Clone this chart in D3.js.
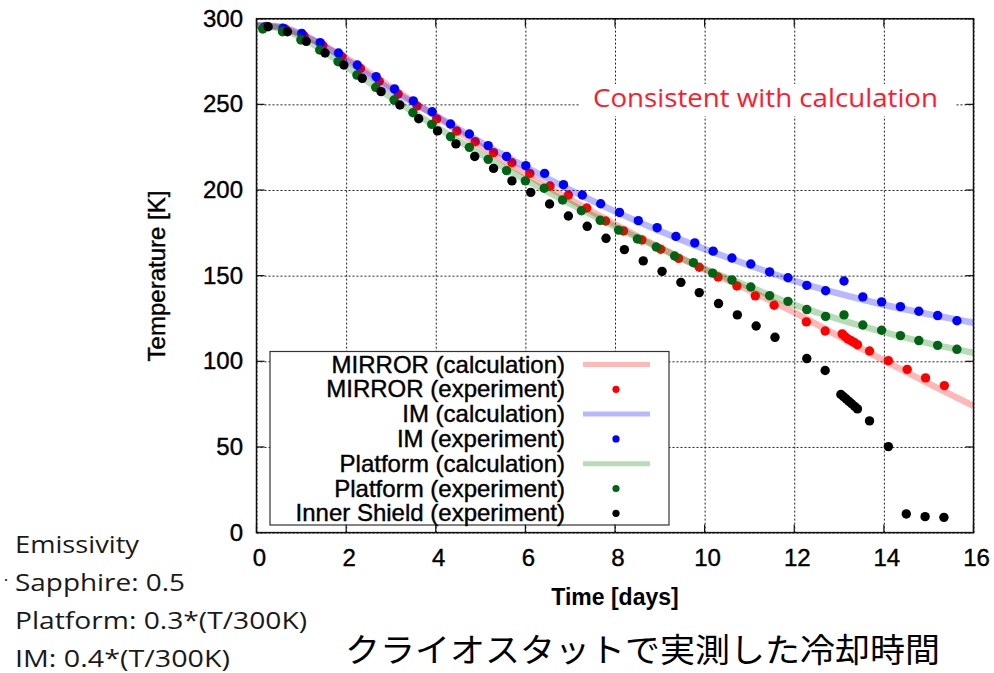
<!DOCTYPE html>
<html>
<head>
<meta charset="utf-8">
<script src="https://cdn.jsdelivr.net/npm/d3@7"></script>
<style>
  body { margin: 0; background: #fff; }
  svg { display: block; }
</style>
</head>
<body>
<svg id="chart"></svg>
<script>
// tick values
const xTicks = [0, 2, 4, 6, 8, 10, 12, 14, 16];
const yTicks = [0, 50, 100, 150, 200, 250, 300];

// calculation curves [day, K]
const mirrorCalc = [[0, 296], [0.5, 295], [1, 290.5], [2, 277], [3, 260], [4, 243], [5, 225.5], [6, 209.5],
  [7, 194.5], [8, 180], [9, 166.5], [10, 153.5], [11, 141.5], [12, 128.5], [13, 114.5], [14, 100.5], [15, 87], [16, 74]];
const imCalc = [[0, 296], [0.5, 295.5], [1, 291], [2, 276], [3, 258.5], [4, 243.5], [5, 228], [6, 213.5],
  [7, 200], [8, 187.5], [9, 176], [10, 165.5], [11, 156], [12, 147], [13, 139.5], [14, 133], [15, 127.5], [16, 122.5]];
const platformCalc = [[0, 296], [0.5, 294.5], [1, 289], [2, 272], [3, 254], [4, 237], [5, 221], [6, 206],
  [7, 192], [8, 178.5], [9, 166], [10, 154], [11, 143.5], [12, 133], [13, 124.5], [14, 117], [15, 110.5], [16, 105]];

// measured points [day, K]
const mirrorExp = [[0.22, 295.5], [0.64, 294], [1.06, 290], [1.48, 284.5], [1.90, 278], [2.32, 271], [2.74, 263.5],
  [3.16, 256], [3.58, 249], [4.02, 241.5], [4.47, 234.4], [4.88, 228.2], [5.29, 221.8], [5.70, 215.9],
  [6.10, 209.7], [6.55, 202.3], [6.96, 197.1], [7.37, 189.5], [7.79, 181.9], [8.19, 176.1], [8.60, 170.8],
  [9.02, 165.4], [9.42, 160.1], [9.88, 154.9], [10.30, 149.2], [10.72, 144], [11.13, 138.2], [11.55, 132.7],
  [12.27, 123], [12.69, 117.7], [13.07, 116], [13.13, 114.5], [13.20, 113], [13.27, 112], [13.34, 111],
  [13.41, 109.7], [13.68, 106], [14.10, 100.4], [14.52, 95.3], [14.93, 90.3], [15.35, 85.8]];
const imExp = [[0.17, 295], [0.59, 294.5], [1.01, 291.4], [1.42, 286], [1.83, 280], [2.25, 273], [2.67, 266.2],
  [3.08, 259], [3.50, 252], [3.92, 245.7], [4.33, 238.5], [4.75, 232.7], [5.17, 225.9], [5.58, 219.6],
  [6.01, 214.2], [6.43, 209.7], [6.85, 203.1], [7.27, 197.1], [7.68, 192], [8.10, 186.9], [8.52, 182.1],
  [8.94, 178], [9.36, 172.9], [9.78, 169.1], [10.19, 164.3], [10.61, 160.3], [11.03, 156.8], [11.45, 152.2],
  [11.86, 148.8], [12.28, 144.3], [12.70, 141.2], [13.11, 146.9], [13.53, 137.6], [13.95, 134.7],
  [14.37, 131.9], [14.78, 129.2], [15.20, 126.7], [15.63, 123.7]];
const platformExp = [[0.14, 294], [0.58, 292.4], [0.99, 287.6], [1.41, 281.7], [1.82, 274.9], [2.24, 267.1],
  [2.66, 259.9], [3.07, 252.5], [3.49, 245.1], [3.91, 238.3], [4.33, 231.1], [4.75, 224.9], [5.17, 217.9],
  [5.58, 211.3], [6.00, 205.3], [6.42, 201], [6.83, 194.2], [7.25, 187.9], [7.67, 182.3], [8.08, 176.6],
  [8.50, 171.4], [8.92, 166.7], [9.33, 161.5], [9.75, 157.6], [10.18, 151.5], [10.61, 147.5], [11.03, 143.4],
  [11.45, 138.3], [11.86, 135], [12.28, 130.2], [12.70, 126.2], [13.11, 127.1], [13.53, 121.2],
  [13.95, 118.1], [14.37, 115], [14.78, 112.1], [15.20, 109.3], [15.63, 107]];
const shieldExp = [[0.26, 295.3], [0.69, 292.4], [1.11, 286.8], [1.53, 280], [1.95, 273], [2.36, 265.2],
  [2.78, 257.4], [3.20, 249.6], [3.62, 241.6], [4.04, 234.5], [4.45, 226.9], [4.87, 219.6], [5.29, 212.6],
  [5.70, 205.3], [6.12, 198.6], [6.54, 191.8], [6.96, 184.8], [7.38, 178.8], [7.80, 171.8], [8.21, 165.2],
  [8.63, 158.6], [9.05, 152.5], [9.47, 146.1], [9.88, 140.1], [10.31, 133.7], [10.73, 127.1], [11.15, 120.6],
  [11.57, 114], [12.28, 101.6], [12.69, 94.6], [13.04, 80.6], [13.10, 79.3], [13.16, 78], [13.22, 76.6],
  [13.28, 75.2], [13.35, 73.6], [13.41, 72.2], [13.68, 65.2], [14.10, 50.2], [14.50, 10.9], [14.92, 9.3],
  [15.34, 8.9]];

const emissivityLines = ['Emissivity', 'Sapphire: 0.5', 'Platform: 0.3*(T/300K)', 'IM: 0.4*(T/300K)'];

const width = 994;
const height = 673;
const plot = { left: 256.5, right: 973.5, top: 18.7, bottom: 532.6 };

const svg = d3.select('#chart')
  .attr('width', width)
  .attr('height', height)
  .style('font-family', '"Liberation Sans", Arial, sans-serif');

const x = d3.scaleLinear().domain([0, 16]).range([plot.left, plot.right]);
const y = d3.scaleLinear().domain([0, 300]).range([plot.bottom, plot.top]);

// grid
svg.append('g')
  .attr('transform', `translate(0, ${plot.bottom})`)
  .call(d3.axisBottom(x).tickValues(xTicks).tickSize(-(plot.bottom - plot.top)).tickFormat(''))
  .call(g => g.select('.domain').remove())
  .call(g => g.selectAll('line').attr('stroke', '#222').attr('stroke-dasharray', '2,2'));
svg.append('g')
  .attr('transform', `translate(${plot.left}, 0)`)
  .call(d3.axisLeft(y).tickValues(yTicks).tickSize(-(plot.right - plot.left)).tickFormat(''))
  .call(g => g.select('.domain').remove())
  .call(g => g.selectAll('line').attr('stroke', '#222').attr('stroke-dasharray', '2,2'));

// tick labels (slight stroke to match the heavier look)
svg.append('g')
  .selectAll('text')
  .data(xTicks)
  .enter()
  .append('text')
  .attr('x', d => x(d) + 3)
  .attr('y', 566)
  .attr('text-anchor', 'middle')
  .style('font-size', '24px')
  .attr('stroke', '#000').attr('stroke-width', 0.4)
  .text(d => d);
svg.append('g')
  .selectAll('text')
  .data(yTicks)
  .enter()
  .append('text')
  .attr('x', 243)
  .attr('y', d => y(d) + 8)
  .attr('text-anchor', 'end')
  .style('font-size', '24px')
  .attr('stroke', '#000').attr('stroke-width', 0.4)
  .text(d => d);

// annotation box
svg.append('rect')
  .attr('x', 580).attr('y', 84).attr('width', 375).attr('height', 32)
  .attr('fill', '#fff');
svg.append('text')
  .attr('x', 593)
  .attr('y', 107)
  .attr('textLength', 345)
  .attr('lengthAdjust', 'spacingAndGlyphs')
  .style('font-family', '"Open Sans", "Noto Sans", sans-serif')
  .style('font-size', '25px')
  .attr('fill', '#ff1a2e')
  .text('Consistent with calculation');

const line = d3.line()
  .x(d => x(d[0]))
  .y(d => y(d[1]))
  .curve(d3.curveMonotoneX);

const series = [
  { name: 'MIRROR (calculation)', type: 'line', data: mirrorCalc, color: '#ff0000' },
  { name: 'MIRROR (experiment)', type: 'dot', data: mirrorExp, color: '#ff0000' },
  { name: 'IM (calculation)', type: 'line', data: imCalc, color: '#0000ff' },
  { name: 'IM (experiment)', type: 'dot', data: imExp, color: '#0000ff' },
  { name: 'Platform (calculation)', type: 'line', data: platformCalc, color: '#008000' },
  { name: 'Platform (experiment)', type: 'dot', data: platformExp, color: '#006414' },
  { name: 'Inner Shield (experiment)', type: 'dot', data: shieldExp, color: '#000000' },
];

series.forEach(s => {
  if (s.type === 'line') {
    svg.append('path')
      .datum(s.data)
      .attr('d', line)
      .attr('fill', 'none')
      .attr('stroke', s.color)
      .attr('stroke-opacity', 0.28)
      .attr('stroke-width', 6.5);
  } else {
    svg.append('g')
      .selectAll('circle')
      .data(s.data)
      .enter()
      .append('circle')
      .attr('cx', d => x(d[0]))
      .attr('cy', d => y(d[1]))
      .attr('r', 4.7)
      .attr('fill', s.color);
  }
});

// legend
const legend = svg.append('g');
legend.append('rect')
  .attr('x', 270).attr('y', 351.5).attr('width', 399).attr('height', 173.5)
  .attr('fill', '#fff')
  .attr('stroke', '#333')
  .attr('stroke-width', 1.2);

const rows = legend.selectAll('.row')
  .data(series)
  .enter()
  .append('g')
  .attr('transform', (_, i) => `translate(0, ${364.5 + i * 24.8})`);
rows.append('text')
  .attr('x', 565)
  .attr('y', 8)
  .attr('text-anchor', 'end')
  .style('font-size', '24px')
  .attr('stroke', '#000').attr('stroke-width', 0.4)
  .text(d => d.name);
rows.filter(d => d.type === 'line')
  .append('line')
  .attr('x1', 583).attr('x2', 650)
  .attr('stroke', d => d.color)
  .attr('stroke-opacity', 0.28)
  .attr('stroke-width', 5);
rows.filter(d => d.type === 'dot')
  .append('circle')
  .attr('cx', 616)
  .attr('r', 3.6)
  .attr('fill', d => d.color);

// frame with inner ticks
svg.append('rect')
  .attr('x', plot.left).attr('y', plot.top)
  .attr('width', plot.right - plot.left).attr('height', plot.bottom - plot.top)
  .attr('fill', 'none')
  .attr('stroke', '#111')
  .attr('stroke-width', 1.5);
const tickG = svg.append('g').attr('stroke', '#111').attr('stroke-width', 1.2);
xTicks.forEach(t => {
  tickG.append('line').attr('x1', x(t)).attr('x2', x(t)).attr('y1', plot.bottom).attr('y2', plot.bottom - 8);
  tickG.append('line').attr('x1', x(t)).attr('x2', x(t)).attr('y1', plot.top).attr('y2', plot.top + 8);
});
yTicks.forEach(t => {
  tickG.append('line').attr('x1', plot.left).attr('x2', plot.left + 8).attr('y1', y(t)).attr('y2', y(t));
  tickG.append('line').attr('x1', plot.right).attr('x2', plot.right - 8).attr('y1', y(t)).attr('y2', y(t));
});

// axis titles
svg.append('text')
  .attr('x', 615)
  .attr('y', 605)
  .attr('text-anchor', 'middle')
  .style('font-size', '23px')
  .style('font-weight', 'bold')
  .text('Time [days]');
svg.append('text')
  .attr('transform', 'translate(165, 276) rotate(-90)')
  .attr('text-anchor', 'middle')
  .style('font-size', '24px')
  .attr('stroke', '#000').attr('stroke-width', 0.4)
  .text('Temperature [K]');

// emissivity notes
svg.append('text')
  .attr('x', 3).attr('y', 585)
  .style('font-size', '18px')
  .attr('fill', '#222')
  .text('·');
svg.append('g')
  .selectAll('text')
  .data(emissivityLines)
  .enter()
  .append('text')
  .attr('x', 15)
  .attr('y', (_, i) => 553 + i * 38)
  .style('font-family', '"Open Sans", "Noto Sans", sans-serif')
  .style('font-size', '24px')
  .attr('fill', '#1a1a1a')
  .attr('textLength', (d, i) => [124, 170, 292, 215][i])
  .attr('lengthAdjust', 'spacingAndGlyphs')
  .text(d => d);

// japanese caption
svg.append('text')
  .attr('x', 345)
  .attr('y', 662)
  .attr('textLength', 595)
  .attr('lengthAdjust', 'spacingAndGlyphs')
  .style('font-family', '"Noto Sans CJK JP", sans-serif')
  .style('font-size', '33px')
  .attr('fill', '#000')
  .text('クライオスタットで実測した冷却時間');
</script>
</body>
</html>
